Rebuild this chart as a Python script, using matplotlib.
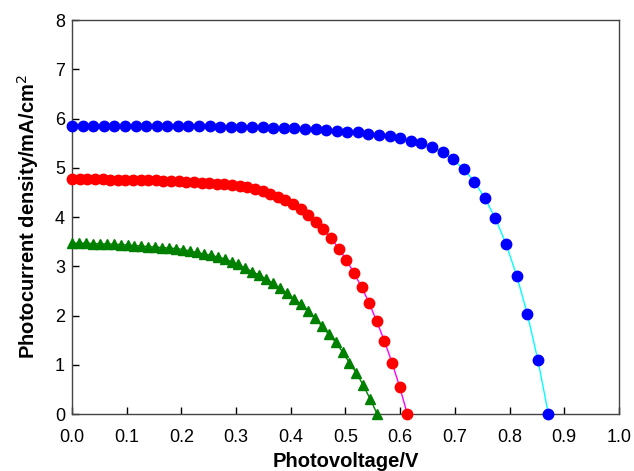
import numpy as np
import matplotlib
matplotlib.use("Agg")
from matplotlib import pyplot as plt

plt.rcParams['font.family'] = ['Liberation Sans', 'DejaVu Sans']

# blue curve (circles, cyan line)
blue_v = np.linspace(0, 0.871, 46)
blue_j = [5.85, 5.85, 5.85, 5.85, 5.85, 5.85, 5.85, 5.85, 5.85, 5.84,
          5.84, 5.84, 5.84, 5.84, 5.83, 5.83, 5.83, 5.82, 5.82, 5.81,
          5.81, 5.80, 5.79, 5.78, 5.77, 5.75, 5.73, 5.72, 5.69, 5.67,
          5.65, 5.61, 5.55, 5.50, 5.42, 5.31, 5.17, 4.97, 4.72, 4.38,
          3.97, 3.45, 2.81, 2.04, 1.10, 0.0]

# red curve (circles, magenta line)
red_v = np.linspace(0, 0.613, 45)
red_j = [4.77, 4.77, 4.77, 4.77, 4.77, 4.76, 4.76, 4.76, 4.76, 4.75,
         4.75, 4.75, 4.74, 4.74, 4.73, 4.72, 4.71, 4.70, 4.69, 4.68,
         4.67, 4.65, 4.63, 4.60, 4.56, 4.52, 4.47, 4.41, 4.34, 4.26,
         4.16, 4.04, 3.90, 3.75, 3.57, 3.36, 3.13, 2.86, 2.58, 2.25,
         1.88, 1.48, 1.04, 0.55, 0.0]

# green curve (triangles)
green_v = np.linspace(0, 0.558, 45)
green_j = [3.47, 3.47, 3.47, 3.46, 3.46, 3.45, 3.45, 3.44, 3.43, 3.42,
           3.41, 3.40, 3.39, 3.38, 3.37, 3.36, 3.34, 3.31, 3.28, 3.25,
           3.22, 3.19, 3.15, 3.09, 3.04, 2.96, 2.89, 2.82, 2.74, 2.65,
           2.55, 2.45, 2.34, 2.23, 2.10, 1.94, 1.79, 1.62, 1.46, 1.26,
           1.04, 0.83, 0.58, 0.30, 0.0]

x_ticks = np.round(np.arange(0, 1.01, 0.1), 1)
y_ticks = list(range(0, 9))

fig = plt.figure(figsize=(6.34, 4.71), dpi=100)
ax = fig.add_axes([0.1136, 0.121, 0.8627, 0.8365])

ax.plot(blue_v, blue_j, color='cyan', linewidth=1.0, marker='o', markersize=7.5,
        markerfacecolor='blue', markeredgecolor='blue', clip_on=False, zorder=3)
ax.plot(red_v, red_j, color='magenta', linewidth=1.0, marker='o', markersize=7.5,
        markerfacecolor='red', markeredgecolor='red', clip_on=False, zorder=3)
ax.plot(green_v, green_j, color='green', linewidth=1.0, marker='^', markersize=7,
        markerfacecolor='green', markeredgecolor='green', clip_on=False, zorder=3)

ax.set_xlim(0, 1.0)
ax.set_ylim(0, 8)
ax.set_xticks(x_ticks)
ax.set_xticklabels([f"{t:.1f}" for t in x_ticks])
ax.set_yticks(y_ticks)
ax.tick_params(direction="in", length=5, width=1, labelsize=13, colors='black')
ax.tick_params(axis='x', pad=11)
ax.tick_params(axis='y', pad=5)
for s in ax.spines.values():
    s.set_color('#444444')
    s.set_linewidth(1.0)

ax.set_xlabel('Photovoltage/V', fontsize=14.5, fontweight='bold', labelpad=4)
ax.set_ylabel('Photocurrent density/mA/cm$^2$', fontsize=14.5, fontweight='bold', labelpad=10)

fig.savefig('out.png', dpi=100)
